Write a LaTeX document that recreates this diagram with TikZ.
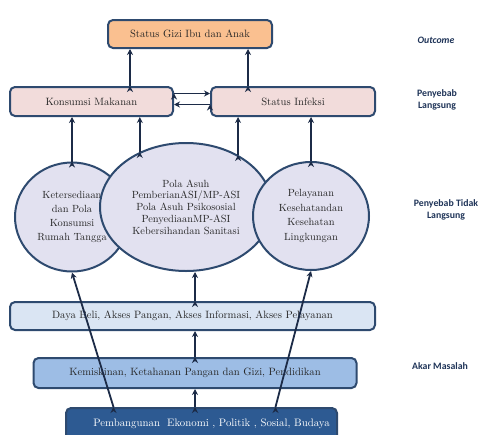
\documentclass[tikz,border=0pt]{standalone}
\usepackage{fontspec}
\newfontfamily\lblfont{Carlito}
\usetikzlibrary{arrows.meta, shapes.geometric, calc}
\usepackage{xcolor}

\definecolor{navyline}{HTML}{2E4A6F}
\definecolor{arrowc}{HTML}{1C2B47}
\definecolor{orangefill}{HTML}{FAC090}
\definecolor{pinkfill}{HTML}{F2DCDB}
\definecolor{ovalfill}{HTML}{E2E1F0}
\definecolor{paleblue}{HTML}{DAE5F3}
\definecolor{midblue}{HTML}{9DBDE5}
\definecolor{deepblue}{HTML}{2D5A92}
\definecolor{labelc}{HTML}{1F3458}

\tikzset{
  box/.style={draw=navyline, line width=2pt, rectangle, rounded corners=5pt, inner sep=0pt, font=\fontsize{10.6}{12}\selectfont, text=black!85},
  oval/.style={draw=navyline, line width=2pt, ellipse, fill=ovalfill, inner sep=0pt, align=center, text=black!85},
  arr/.style={-{Stealth[length=6pt, width=6pt]}, draw=arrowc, line width=1.8pt},
  levellabel/.style={font=\lblfont\bfseries\fontsize{9.8}{12.5}\selectfont, text=labelc, align=center},
}

\begin{document}
\begin{tikzpicture}[x=1pt, y=-1pt]
      \useasboundingbox (0,0) rectangle (484,434);

      % Outcome box
      \node[box, fill=orangefill, minimum width=164pt, minimum height=28pt] (gizi) at (190,34) {Status Gizi Ibu dan Anak};

      % Direct causes
      \node[box, fill=pinkfill, minimum width=163pt, minimum height=29pt] (konsumsi) at (91.5,101.5) {Konsumsi Makanan};
      \node[box, fill=pinkfill, minimum width=164pt, minimum height=29pt] (infeksi) at (293,101.5) {Status Infeksi};

      % Indirect causes (left, centre, right ovals)
      \node[oval, minimum width=114pt, minimum height=109pt, font=\fontsize{10.4}{14}\selectfont] (pangan) at (72,217)
        {Ketersediaan\\dan Pola\\Konsumsi\\Rumah Tangga};
      \node[oval, minimum width=172pt, minimum height=128pt, font=\fontsize{10.4}{11.8}\selectfont] (asuh) at (186,207)
        {Pola Asuh\\PemberianASI/MP-ASI\\Pola Asuh Psikososial\\PenyediaanMP-ASI\\Kebersihandan Sanitasi};
      \node[oval, minimum width=116pt, minimum height=108pt, font=\fontsize{10.4}{14.6}\selectfont] (layanan) at (311,216)
        {Pelayanan\\Kesehatandan\\Kesehatan\\Lingkungan};

      % Root causes
      \node[box, fill=paleblue, minimum width=365pt, minimum height=28pt] (daya) at (192.5,316) {Daya Beli, Akses Pangan, Akses Informasi, Akses Pelayanan};
      \node[box, fill=midblue, minimum width=323pt, minimum height=30pt] (miskin) at (195,373) {Kemiskinan, Ketahanan Pangan dan Gizi, Pendidikan};
      \node[box, fill=deepblue, minimum width=271pt, minimum height=32pt, text=white, font=\fontsize{10.8}{12}\selectfont] (bangun) at (201.5,424)
        {\hspace*{20pt}Pembangunan\ \ Ekonomi , Politik , Sosial, Budaya};

      % Level labels
      \node[levellabel] (outcome) at (436,40) {\itshape Outcome};
      \node[levellabel] (langsung) at (437,100) {Penyebab\\Langsung};
      \node[levellabel] (tidak) at (446,210) {Penyebab Tidak\\Langsung};
      \node[levellabel] (akar) at (440,366) {Akar Masalah};

      % Arrows to outcome
      \path [arr] (konsumsi.north -| 130,0) edge (gizi.south -| 130,0);
      \path [arr] (infeksi.north -| 248,0) edge (gizi.south -| 248,0);
      \path [arr] ([yshift=8pt]konsumsi.east) edge ([yshift=8pt]infeksi.west);
      \path [arr] ([yshift=-3pt]infeksi.west) edge ([yshift=-3pt]konsumsi.east);

      % Arrows from ovals
      \path [arr] (pangan.north) edge (pangan.north |- konsumsi.south);
      \path [arr] (asuh.130) edge (asuh.130 |- konsumsi.south);
      \path [arr] (asuh.45) edge (asuh.45 |- infeksi.south);
      \path [arr] (layanan.north) edge (layanan.north |- infeksi.south);

      % Arrows from root causes
      \path [arr] (bangun.north -| miskin.south) edge (miskin.south);
      \path [arr] (miskin.north) edge (daya.south -| miskin.north);
      \path [arr] (daya.north -| miskin.north) edge (asuh.south -| miskin.north);
      \path [arr] ($(bangun.north)+(-88,0)$) edge (pangan.south);
      \path [arr] ($(bangun.north)+(74,0)$) edge (layanan.south);
\end{tikzpicture}
\end{document}
